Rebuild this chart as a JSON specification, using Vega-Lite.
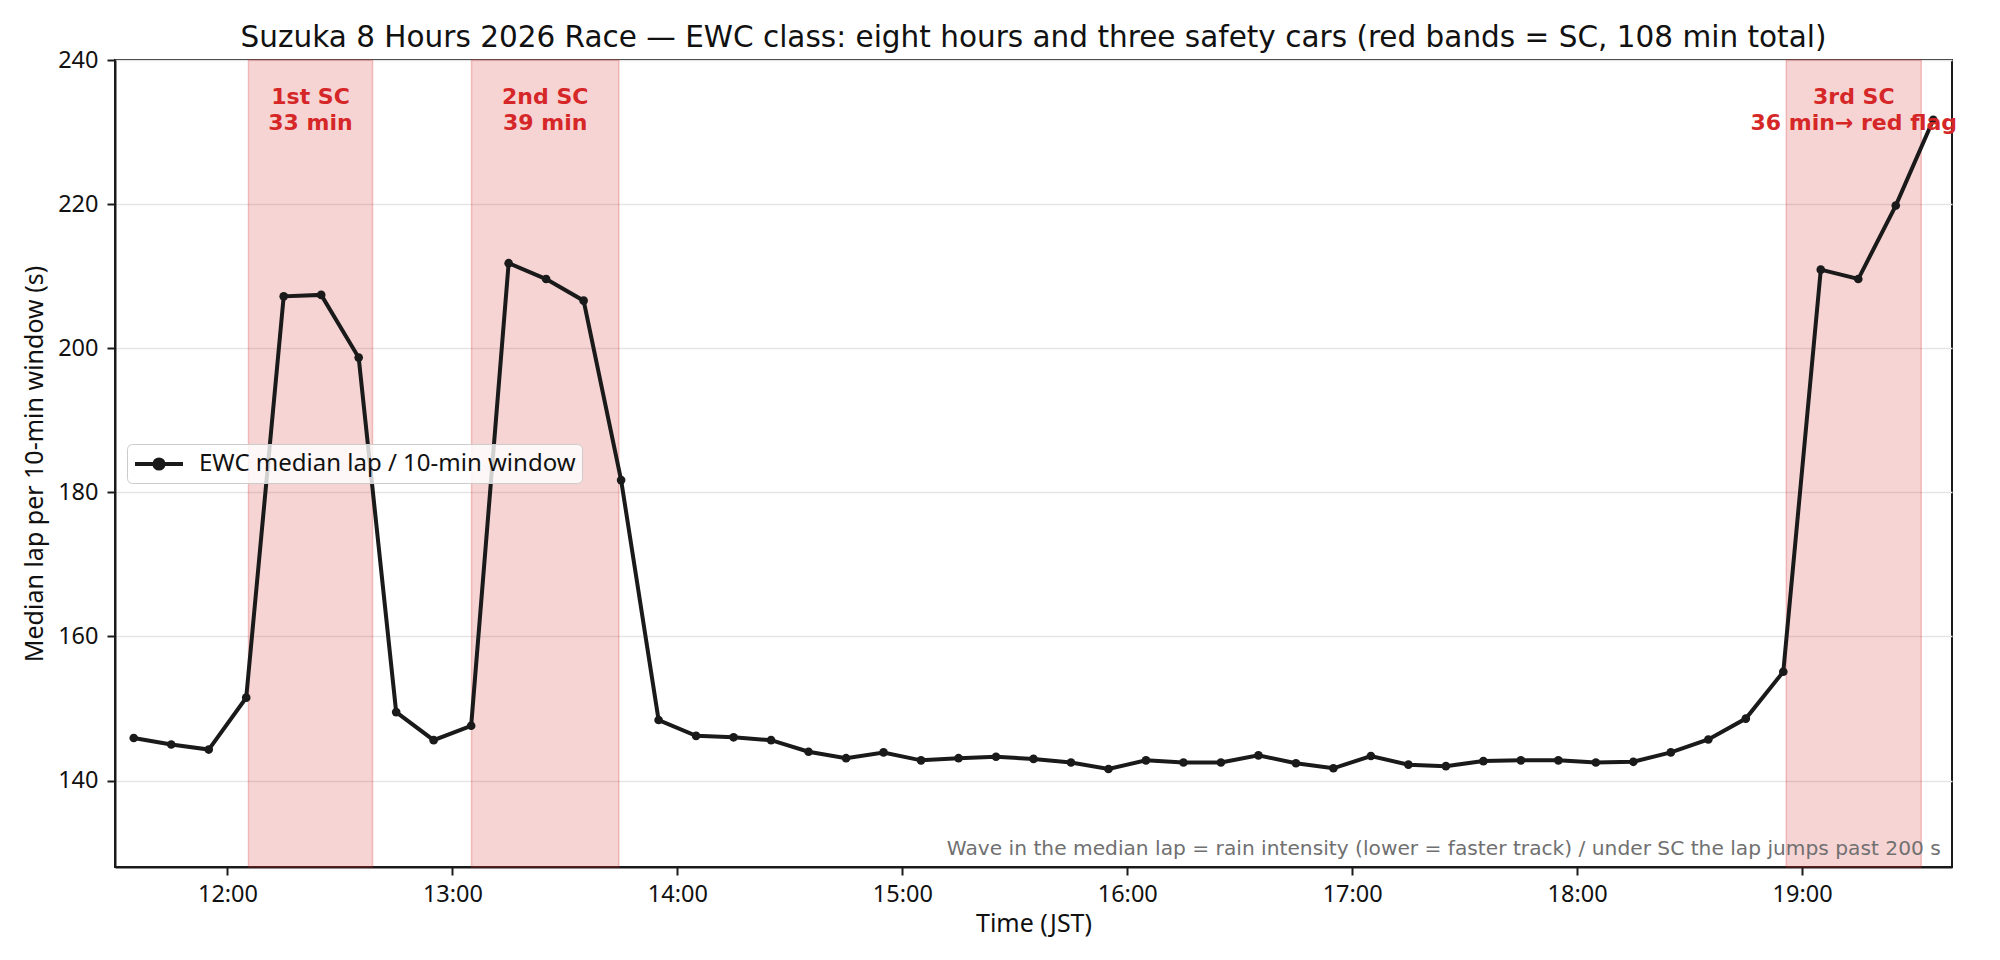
{
  "$schema": "https://vega.github.io/schema/vega-lite/v6.json",
  "width": 1837,
  "height": 807,
  "autosize": {"type": "none"},
  "padding": {"left": 115, "top": 60, "right": 48, "bottom": 93},
  "title": {
    "text": "Suzuka 8 Hours 2026 Race — EWC class: eight hours and three safety cars (red bands = SC, 108 min total)",
    "font": "DejaVu Sans",
    "fontSize": 29.5,
    "fontWeight": "normal",
    "color": "#111111",
    "anchor": "middle",
    "baseline": "alphabetic",
    "offset": 14,
    "dy": 42
  },
  "datasets": {
    "laps": [
      {"t": "2026-08-02T11:35:00", "lap": 145.9, "series": "EWC median lap / 10-min window"},
      {"t": "2026-08-02T11:45:00", "lap": 145.0, "series": "EWC median lap / 10-min window"},
      {"t": "2026-08-02T11:55:00", "lap": 144.3, "series": "EWC median lap / 10-min window"},
      {"t": "2026-08-02T12:05:00", "lap": 151.5, "series": "EWC median lap / 10-min window"},
      {"t": "2026-08-02T12:15:00", "lap": 207.2, "series": "EWC median lap / 10-min window"},
      {"t": "2026-08-02T12:25:00", "lap": 207.4, "series": "EWC median lap / 10-min window"},
      {"t": "2026-08-02T12:35:00", "lap": 198.7, "series": "EWC median lap / 10-min window"},
      {"t": "2026-08-02T12:45:00", "lap": 149.5, "series": "EWC median lap / 10-min window"},
      {"t": "2026-08-02T12:55:00", "lap": 145.6, "series": "EWC median lap / 10-min window"},
      {"t": "2026-08-02T13:05:00", "lap": 147.6, "series": "EWC median lap / 10-min window"},
      {"t": "2026-08-02T13:15:00", "lap": 211.8, "series": "EWC median lap / 10-min window"},
      {"t": "2026-08-02T13:25:00", "lap": 209.6, "series": "EWC median lap / 10-min window"},
      {"t": "2026-08-02T13:35:00", "lap": 206.6, "series": "EWC median lap / 10-min window"},
      {"t": "2026-08-02T13:45:00", "lap": 181.7, "series": "EWC median lap / 10-min window"},
      {"t": "2026-08-02T13:55:00", "lap": 148.4, "series": "EWC median lap / 10-min window"},
      {"t": "2026-08-02T14:05:00", "lap": 146.2, "series": "EWC median lap / 10-min window"},
      {"t": "2026-08-02T14:15:00", "lap": 146.0, "series": "EWC median lap / 10-min window"},
      {"t": "2026-08-02T14:25:00", "lap": 145.6, "series": "EWC median lap / 10-min window"},
      {"t": "2026-08-02T14:35:00", "lap": 144.0, "series": "EWC median lap / 10-min window"},
      {"t": "2026-08-02T14:45:00", "lap": 143.1, "series": "EWC median lap / 10-min window"},
      {"t": "2026-08-02T14:55:00", "lap": 143.9, "series": "EWC median lap / 10-min window"},
      {"t": "2026-08-02T15:05:00", "lap": 142.8, "series": "EWC median lap / 10-min window"},
      {"t": "2026-08-02T15:15:00", "lap": 143.1, "series": "EWC median lap / 10-min window"},
      {"t": "2026-08-02T15:25:00", "lap": 143.3, "series": "EWC median lap / 10-min window"},
      {"t": "2026-08-02T15:35:00", "lap": 143.0, "series": "EWC median lap / 10-min window"},
      {"t": "2026-08-02T15:45:00", "lap": 142.5, "series": "EWC median lap / 10-min window"},
      {"t": "2026-08-02T15:55:00", "lap": 141.6, "series": "EWC median lap / 10-min window"},
      {"t": "2026-08-02T16:05:00", "lap": 142.8, "series": "EWC median lap / 10-min window"},
      {"t": "2026-08-02T16:15:00", "lap": 142.5, "series": "EWC median lap / 10-min window"},
      {"t": "2026-08-02T16:25:00", "lap": 142.5, "series": "EWC median lap / 10-min window"},
      {"t": "2026-08-02T16:35:00", "lap": 143.5, "series": "EWC median lap / 10-min window"},
      {"t": "2026-08-02T16:45:00", "lap": 142.4, "series": "EWC median lap / 10-min window"},
      {"t": "2026-08-02T16:55:00", "lap": 141.7, "series": "EWC median lap / 10-min window"},
      {"t": "2026-08-02T17:05:00", "lap": 143.4, "series": "EWC median lap / 10-min window"},
      {"t": "2026-08-02T17:15:00", "lap": 142.2, "series": "EWC median lap / 10-min window"},
      {"t": "2026-08-02T17:25:00", "lap": 142.0, "series": "EWC median lap / 10-min window"},
      {"t": "2026-08-02T17:35:00", "lap": 142.7, "series": "EWC median lap / 10-min window"},
      {"t": "2026-08-02T17:45:00", "lap": 142.8, "series": "EWC median lap / 10-min window"},
      {"t": "2026-08-02T17:55:00", "lap": 142.8, "series": "EWC median lap / 10-min window"},
      {"t": "2026-08-02T18:05:00", "lap": 142.5, "series": "EWC median lap / 10-min window"},
      {"t": "2026-08-02T18:15:00", "lap": 142.6, "series": "EWC median lap / 10-min window"},
      {"t": "2026-08-02T18:25:00", "lap": 143.9, "series": "EWC median lap / 10-min window"},
      {"t": "2026-08-02T18:35:00", "lap": 145.7, "series": "EWC median lap / 10-min window"},
      {"t": "2026-08-02T18:45:00", "lap": 148.6, "series": "EWC median lap / 10-min window"},
      {"t": "2026-08-02T18:55:00", "lap": 155.1, "series": "EWC median lap / 10-min window"},
      {"t": "2026-08-02T19:05:00", "lap": 210.9, "series": "EWC median lap / 10-min window"},
      {"t": "2026-08-02T19:15:00", "lap": 209.6, "series": "EWC median lap / 10-min window"},
      {"t": "2026-08-02T19:25:00", "lap": 219.8, "series": "EWC median lap / 10-min window"},
      {"t": "2026-08-02T19:35:00", "lap": 231.7, "series": "EWC median lap / 10-min window"}
    ],
    "sc": [
      {"start": "2026-08-02T12:05:36", "end": "2026-08-02T12:38:42", "label_t": "2026-08-02T12:22:09", "label": "1st SC\n33 min"},
      {"start": "2026-08-02T13:05:06", "end": "2026-08-02T13:44:24", "label_t": "2026-08-02T13:24:45", "label": "2nd SC\n39 min"},
      {"start": "2026-08-02T18:55:48", "end": "2026-08-02T19:31:48", "label_t": "2026-08-02T19:13:48", "label": "3rd SC\n36 min→ red flag"}
    ],
    "note": [
      {"t": "2026-08-02T19:37:00", "y": 129.67, "text": "Wave in the median lap = rain intensity (lower = faster track) / under SC the lap jumps past 200 s"}
    ]
  },
  "layer": [
    {
      "data": {"name": "sc"},
      "mark": {"type": "rect", "fill": "#d62728", "fillOpacity": 0.2, "stroke": "#d62728", "strokeOpacity": 0.25, "strokeWidth": 1.5},
      "encoding": {
        "x": {
          "field": "start",
          "type": "temporal",
          "scale": {"domain": [{"year": 2026, "month": 8, "date": 2, "hours": 11, "minutes": 30}, {"year": 2026, "month": 8, "date": 2, "hours": 19, "minutes": 40}], "nice": false},
          "axis": {
            "title": "Time (JST)",
            "format": "%H:%M",
            "grid": false,
            "labelFlush": false,
            "labelPadding": 7,
            "titlePadding": 6,
            "values": [
              {"year": 2026, "month": 8, "date": 2, "hours": 12},
              {"year": 2026, "month": 8, "date": 2, "hours": 13},
              {"year": 2026, "month": 8, "date": 2, "hours": 14},
              {"year": 2026, "month": 8, "date": 2, "hours": 15},
              {"year": 2026, "month": 8, "date": 2, "hours": 16},
              {"year": 2026, "month": 8, "date": 2, "hours": 17},
              {"year": 2026, "month": 8, "date": 2, "hours": 18},
              {"year": 2026, "month": 8, "date": 2, "hours": 19}
            ]
          }
        },
        "x2": {"field": "end"}
      }
    },
    {
      "data": {"name": "laps"},
      "mark": {"type": "line", "strokeWidth": 4, "point": {"filled": true, "size": 75}},
      "encoding": {
        "x": {
          "field": "t",
          "type": "temporal",
          "scale": {"domain": [{"year": 2026, "month": 8, "date": 2, "hours": 11, "minutes": 30}, {"year": 2026, "month": 8, "date": 2, "hours": 19, "minutes": 40}], "nice": false},
          "axis": {
            "title": "Time (JST)",
            "format": "%H:%M",
            "grid": false,
            "labelFlush": false,
            "labelPadding": 7,
            "titlePadding": 6,
            "values": [
              {"year": 2026, "month": 8, "date": 2, "hours": 12},
              {"year": 2026, "month": 8, "date": 2, "hours": 13},
              {"year": 2026, "month": 8, "date": 2, "hours": 14},
              {"year": 2026, "month": 8, "date": 2, "hours": 15},
              {"year": 2026, "month": 8, "date": 2, "hours": 16},
              {"year": 2026, "month": 8, "date": 2, "hours": 17},
              {"year": 2026, "month": 8, "date": 2, "hours": 18},
              {"year": 2026, "month": 8, "date": 2, "hours": 19}
            ]
          }
        },
        "y": {
          "field": "lap",
          "type": "quantitative",
          "scale": {"domain": [128, 240], "nice": false, "zero": false},
          "axis": {
            "title": "Median lap per 10-min window (s)",
            "values": [140, 160, 180, 200, 220, 240],
            "grid": true,
            "labelPadding": 9,
            "titlePadding": 10
          }
        },
        "color": {
          "field": "series",
          "type": "nominal",
          "scale": {"range": ["#1a1a1a"]},
          "legend": {
            "title": null,
            "orient": "none",
            "legendX": 12,
            "legendY": 384,
            "symbolType": "M-2,0H2M-0.38,0A0.38,0.38,0,1,0,0.38,0A0.38,0.38,0,1,0,-0.38,0Z",
            "symbolSize": 576,
            "symbolStrokeWidth": 4,
            "symbolFillColor": "#1a1a1a",
            "symbolStrokeColor": "#1a1a1a",
            "symbolOffset": 12,
            "labelOffset": 26,
            "labelFontSize": 24,
            "labelLimit": 0,
            "labelColor": "#111111",
            "padding": 6,
            "fillColor": "rgba(255,255,255,0.8)",
            "strokeColor": "#cccccc",
            "cornerRadius": 5
          }
        }
      }
    },
    {
      "data": {"name": "sc"},
      "mark": {"type": "text", "font": "DejaVu Sans", "fontSize": 22, "fontWeight": "bold", "color": "#d62728", "align": "center", "baseline": "top", "lineBreak": "\n", "lineHeight": 25.5},
      "encoding": {
        "x": {
          "field": "label_t",
          "type": "temporal",
          "scale": {"domain": [{"year": 2026, "month": 8, "date": 2, "hours": 11, "minutes": 30}, {"year": 2026, "month": 8, "date": 2, "hours": 19, "minutes": 40}], "nice": false},
          "axis": {
            "title": "Time (JST)",
            "format": "%H:%M",
            "grid": false,
            "labelFlush": false,
            "labelPadding": 7,
            "titlePadding": 6,
            "values": [
              {"year": 2026, "month": 8, "date": 2, "hours": 12},
              {"year": 2026, "month": 8, "date": 2, "hours": 13},
              {"year": 2026, "month": 8, "date": 2, "hours": 14},
              {"year": 2026, "month": 8, "date": 2, "hours": 15},
              {"year": 2026, "month": 8, "date": 2, "hours": 16},
              {"year": 2026, "month": 8, "date": 2, "hours": 17},
              {"year": 2026, "month": 8, "date": 2, "hours": 18},
              {"year": 2026, "month": 8, "date": 2, "hours": 19}
            ]
          }
        },
        "y": {
          "datum": 236.2,
          "type": "quantitative",
          "scale": {"domain": [128, 240], "nice": false, "zero": false},
          "axis": {
            "title": "Median lap per 10-min window (s)",
            "values": [140, 160, 180, 200, 220, 240],
            "grid": true,
            "labelPadding": 9,
            "titlePadding": 10
          }
        },
        "text": {"field": "label"}
      }
    },
    {
      "data": {"name": "note"},
      "mark": {"type": "text", "font": "DejaVu Sans", "fontSize": 20.2, "color": "#707070", "align": "right", "baseline": "alphabetic"},
      "encoding": {
        "x": {
          "field": "t",
          "type": "temporal",
          "scale": {"domain": [{"year": 2026, "month": 8, "date": 2, "hours": 11, "minutes": 30}, {"year": 2026, "month": 8, "date": 2, "hours": 19, "minutes": 40}], "nice": false},
          "axis": {
            "title": "Time (JST)",
            "format": "%H:%M",
            "grid": false,
            "labelFlush": false,
            "labelPadding": 7,
            "titlePadding": 6,
            "values": [
              {"year": 2026, "month": 8, "date": 2, "hours": 12},
              {"year": 2026, "month": 8, "date": 2, "hours": 13},
              {"year": 2026, "month": 8, "date": 2, "hours": 14},
              {"year": 2026, "month": 8, "date": 2, "hours": 15},
              {"year": 2026, "month": 8, "date": 2, "hours": 16},
              {"year": 2026, "month": 8, "date": 2, "hours": 17},
              {"year": 2026, "month": 8, "date": 2, "hours": 18},
              {"year": 2026, "month": 8, "date": 2, "hours": 19}
            ]
          }
        },
        "y": {
          "field": "y",
          "type": "quantitative",
          "scale": {"domain": [128, 240], "nice": false, "zero": false},
          "axis": {
            "title": "Median lap per 10-min window (s)",
            "values": [140, 160, 180, 200, 220, 240],
            "grid": true,
            "labelPadding": 9,
            "titlePadding": 10
          }
        },
        "text": {"field": "text"}
      }
    }
  ],
  "config": {
    "font": "Noto Sans",
    "view": {"stroke": "#1a1a1a", "strokeWidth": 2},
    "axis": {
      "labelFontSize": 23.5,
      "labelColor": "#111111",
      "titleFontSize": 25,
      "titleFontWeight": "normal",
      "titleColor": "#111111",
      "domainColor": "#1a1a1a",
      "domainWidth": 2,
      "tickColor": "#1a1a1a",
      "tickWidth": 2,
      "tickSize": 8,
      "gridColor": "#e5e5e5",
      "gridWidth": 1.6
    },
    "legend": {"labelFont": "Noto Sans"}
  }
}
